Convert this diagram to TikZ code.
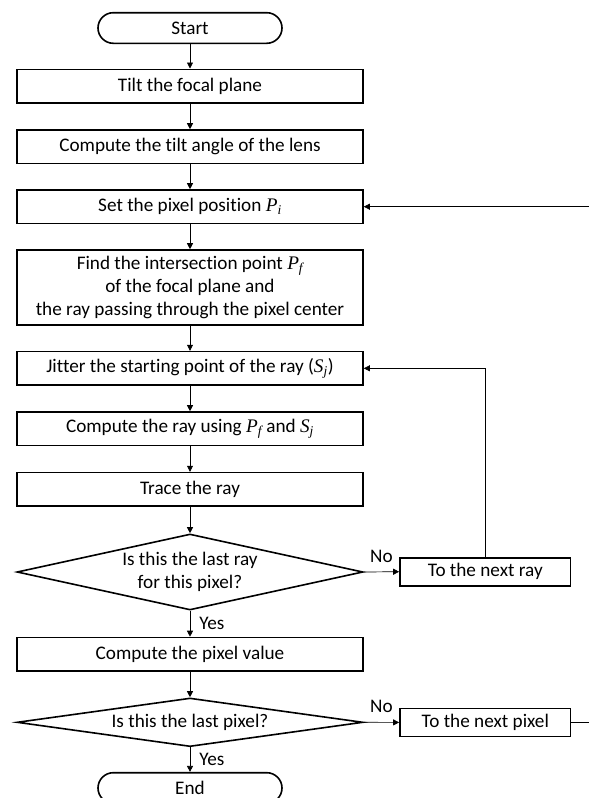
\documentclass[tikz,border=0pt]{standalone}
\usepackage{fontspec}
\setmainfont{Carlito}[Ligatures={NoCommon,NoContextual}]
\newfontfamily\varfont{Liberation Serif}
\newcommand{\varsub}[2]{{\varfont\itshape #1\textsubscript{#2}}}
\usetikzlibrary{arrows.meta,shapes.geometric,shapes.misc}

\begin{document}
\begin{tikzpicture}[x=1pt, y=-1pt,
  every node/.style={font=\fontsize{19.2}{23}\selectfont},
  proc/.style={draw, line width=1.6pt, minimum width=346pt, minimum height=33.4pt, inner sep=0pt, align=center},
  side/.style={draw, line width=1.6pt, minimum width=170.7pt, minimum height=28pt, inner sep=0pt},
  term/.style={draw, line width=1.6pt, rounded rectangle, minimum width=184pt, minimum height=30.6pt, inner sep=0pt},
  decision/.style={draw, line width=1.6pt, diamond, minimum width=346pt, inner sep=0pt},
  flow/.style={-{Triangle[length=6pt,width=6pt]}, line width=0.7pt},
  lab/.style={inner sep=1pt}]
  \useasboundingbox (0,0) rectangle (589,798);
  % main column
  \node[term] (start) at (190,28) {Start};
  \foreach \nm/\y/\txt in {tilt/86/{Tilt the focal plane},
      lensang/146.7/{Compute the tilt angle of the lens},
      setpix/206.7/{Set the pixel position \varsub{P}{i}},
      jitter/368.3/{Jitter the starting point of the ray (\varsub{S}{j})},
      mkray/428.7/{Compute the ray using \varsub{P}{f} and \varsub{S}{j}},
      trace/489.3/{Trace the ray},
      pixval/654.2/{Compute the pixel value}}
    \node[proc] (\nm) at (190,\y) {\txt};
  \node[proc, minimum height=75pt] (focal) at (190,287.5)
    {Find the intersection point \varsub{P}{f}\\of the focal plane and\\the ray passing through the pixel center};
  \node[decision, minimum height=76pt] (lastray) at (190,572) {};
  \node[align=center] (lastraytxt) at (lastray) {Is this the last ray\\for this pixel?};
  \node[decision, minimum height=48.6pt] (lastpix) at (190,722.3) {};
  \node (lastpixtxt) at (lastpix) {Is this the last pixel?};
  \node[term] (end) at (190,788) {End};
  \foreach \a/\b in {start/tilt, tilt/lensang, lensang/setpix, setpix/focal,
      focal/jitter, jitter/mkray, mkray/trace, trace/lastray}
    \draw[flow] (\a.south) -- (\b.north);
  \draw[flow] (lastray.south) -- node[right, lab, xshift=8pt] {Yes} (pixval.north);
  \draw[flow] (pixval.south) -- (lastpix.north);
  \draw[flow] (lastpix.south) -- node[right, lab, xshift=8pt] {Yes} (end.north);
  % loops
  \node[side] (nextray) at (485.3,571.7) {To the next ray};
  \node[side] (nextpix) at (485.3,722.4) {To the next pixel};
  \draw[flow] (lastray.east) -- node[above=8pt, lab] {No} (nextray.west);
  \draw[flow] (lastpix.east) -- node[above=8pt, lab] {No} (nextpix.west);
  \draw[flow] (nextray.north) |- (jitter.east);
  \coordinate (rim) at (593,722.4);
  \draw[flow] (nextpix.east) -- (rim) |- (setpix.east);
\end{tikzpicture}
\end{document}
